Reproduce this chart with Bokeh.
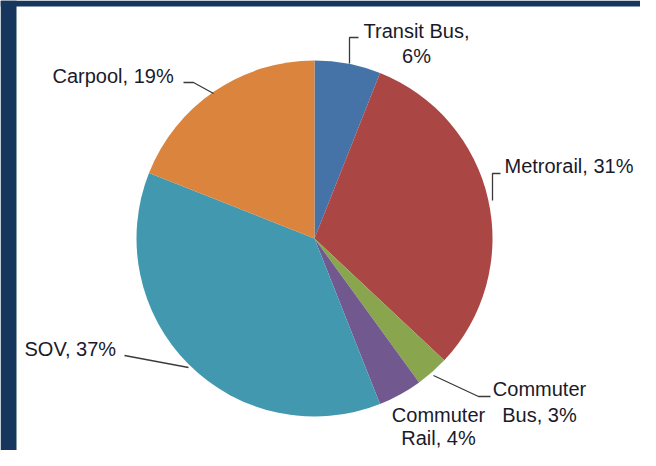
import math
from bokeh.plotting import figure
from bokeh.models import Range1d, ColumnDataSource
from bokeh.core.properties import value
from bokeh.embed import file_html
from bokeh.resources import INLINE

# ---- data ----
categories = ["Transit Bus", "Metrorail", "Commuter Bus", "Commuter Rail", "SOV", "Carpool"]
shares = [6, 31, 3, 4, 37, 19]
colors = ["#4572A7", "#AA4643", "#89A54E", "#71588F", "#4198AF", "#DB843D"]

# ---- layout (picture pixel coords, y downwards) ----
W, H = 640, 450
CX, CY, R = 314, 238, 178

p = figure(width=W, height=H, output_backend="svg", toolbar_location=None,
           x_range=Range1d(0, W), y_range=Range1d(-H, 0),
           min_border=0, outline_line_color=None, background_fill_color="white",
           border_fill_color="white")
p.axis.visible = False
p.grid.visible = False

# navy frame strips (left and top)
p.quad(left=[0, 0], right=[16, W], bottom=[-H, -6], top=[0, 0],
       fill_color="#17365D", line_color=None)

total = float(sum(shares))
starts, ends = [], []
cum = 0.0
for s in shares:
    starts.append(math.pi / 2 - 2 * math.pi * cum / total)
    cum += s
    ends.append(math.pi / 2 - 2 * math.pi * cum / total)

src = ColumnDataSource(dict(start=starts, end=ends, color=colors))
p.wedge(x=CX, y=-CY, radius=R, start_angle="start", end_angle="end", direction="clock",
        fill_color="color", line_color=None, source=src)

# leader lines (picture coordinates)
leaders = [
    [(349, 63), (349, 37), (358, 37)],          # Transit Bus
    [(492, 200), (492, 173), (500, 173)],       # Metrorail
    [(433, 375), (478, 396), (490, 396)],       # Commuter Bus
    [(188, 367), (124, 355)],                   # SOV
    [(213, 93), (193, 82), (183, 82)],          # Carpool
]
p.multi_line(xs=[[pt[0] for pt in l] for l in leaders],
             ys=[[-pt[1] for pt in l] for l in leaders],
             line_color="#3a3a3a", line_width=1.3)

lbl = {c: f"{c}, {v}%" for c, v in zip(categories, shares)}

# text lines: (text, x, y, align)
lines = [
    (f"{categories[0]},", 416, 30, "center"),
    (f"{shares[0]}%", 416, 55, "center"),
    (lbl[categories[1]], 504, 165, "left"),
    ("Commuter", 539, 388, "center"),
    (f"Bus, {shares[2]}%", 539, 414, "center"),
    ("Commuter", 438, 414, "center"),
    (f"Rail, {shares[3]}%", 438, 437, "center"),
    (lbl[categories[4]], 24, 348, "left"),
    (lbl[categories[5]], 52, 75, "left"),
]
for t, x, y, a in lines:
    p.text(x=[x], y=[-y], text=[t], text_align=a, text_baseline="middle",
           text_font=value("Liberation Sans"), text_font_size="20px", text_color="#1a1a2a")

open("out.html", "w").write(file_html(p, INLINE))
